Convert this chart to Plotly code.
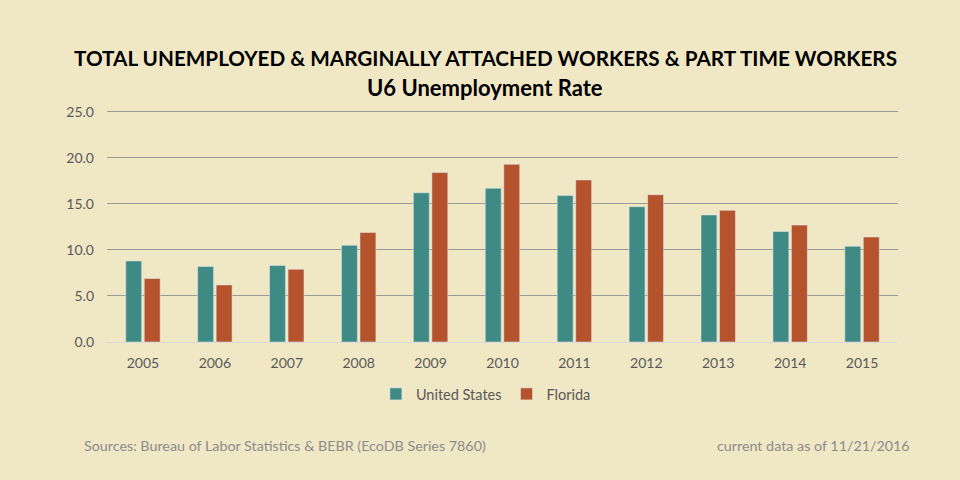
import plotly.graph_objects as go

# U6 unemployment rate
years = ['2005', '2006', '2007', '2008', '2009', '2010',
         '2011', '2012', '2013', '2014', '2015']
us_rate = [8.8, 8.2, 8.3, 10.5, 16.2, 16.7, 15.9, 14.7, 13.8, 12.0, 10.4]
fl_rate = [6.9, 6.2, 7.9, 11.9, 18.4, 19.3, 17.6, 16.0, 14.3, 12.7, 11.4]
y_ticks = [0, 5, 10, 15, 20, 25]

BG = '#F0E7C5'
TEAL = '#3F8A84'
RUST = '#B5532C'
FONT = 'Lato, Open Sans, sans-serif'

fig = go.Figure()
fig.add_trace(go.Bar(x=years, y=us_rate, name='United States', marker_color=TEAL))
fig.add_trace(go.Bar(x=years, y=fl_rate, name='Florida', marker_color=RUST))

# plot area: x 107..898, y 110..342 (25.0 sits at ~112)
fig.update_layout(
    width=960, height=480,
    margin=dict(l=107, r=62, t=110, b=138),
    paper_bgcolor=BG, plot_bgcolor=BG,
    font=dict(family=FONT, size=13, color='#595959'),
    barmode='group', bargap=0.485, bargroupgap=0.14,
    legend=dict(orientation='h', x=0.479, xanchor='center', y=-0.224, yanchor='middle',
                font=dict(size=14.5, color='#595959'), bgcolor='rgba(0,0,0,0)',
                itemwidth=30, traceorder='normal'),
    showlegend=True,
)

fig.update_yaxes(
    range=[0, 25.2], tickvals=y_ticks, tickformat='.1f',
    showgrid=True, gridcolor='#9A9A9A', gridwidth=1,
    zeroline=False, showline=False, ticks='', ticklabelstandoff=12,
    tickfont=dict(size=14, color='#595959'), fixedrange=True,
)
fig.update_xaxes(
    showline=True, linecolor='#D9D9D9', linewidth=1,
    ticks='', ticklabelstandoff=8, tickfont=dict(size=14, color='#595959'),
)

# titles
fig.add_annotation(text='<b>TOTAL UNEMPLOYED &amp; MARGINALLY ATTACHED WORKERS &amp; PART TIME WORKERS</b>',
                   xref='paper', yref='paper', x=0.4785, y=1.224, showarrow=False,
                   font=dict(size=20.7, color='#000000', family=FONT), yanchor='middle')
fig.add_annotation(text='<b>U6 Unemployment Rate</b>',
                   xref='paper', yref='paper', x=0.4785, y=1.099, showarrow=False,
                   font=dict(size=22, color='#000000', family=FONT), yanchor='middle')

# footer notes
fig.add_annotation(text='Sources: Bureau of Labor Statistics &amp; BEBR (EcoDB Series 7860)',
                   xref='paper', yref='paper', x=-0.0316, y=-0.448, showarrow=False,
                   xanchor='left', yanchor='middle', font=dict(size=14.3, color='#8C8C8C'))
fig.add_annotation(text='current data as of 11/21/2016',
                   xref='paper', yref='paper', x=1.0177, y=-0.448, showarrow=False,
                   xanchor='right', yanchor='middle', font=dict(size=14.3, color='#8C8C8C'))

fig.write_html('out.html', config={'displayModeBar': False},
               post_script="document.body.style.margin='0';"
                           "document.body.style.background='#F0E7C5';")
